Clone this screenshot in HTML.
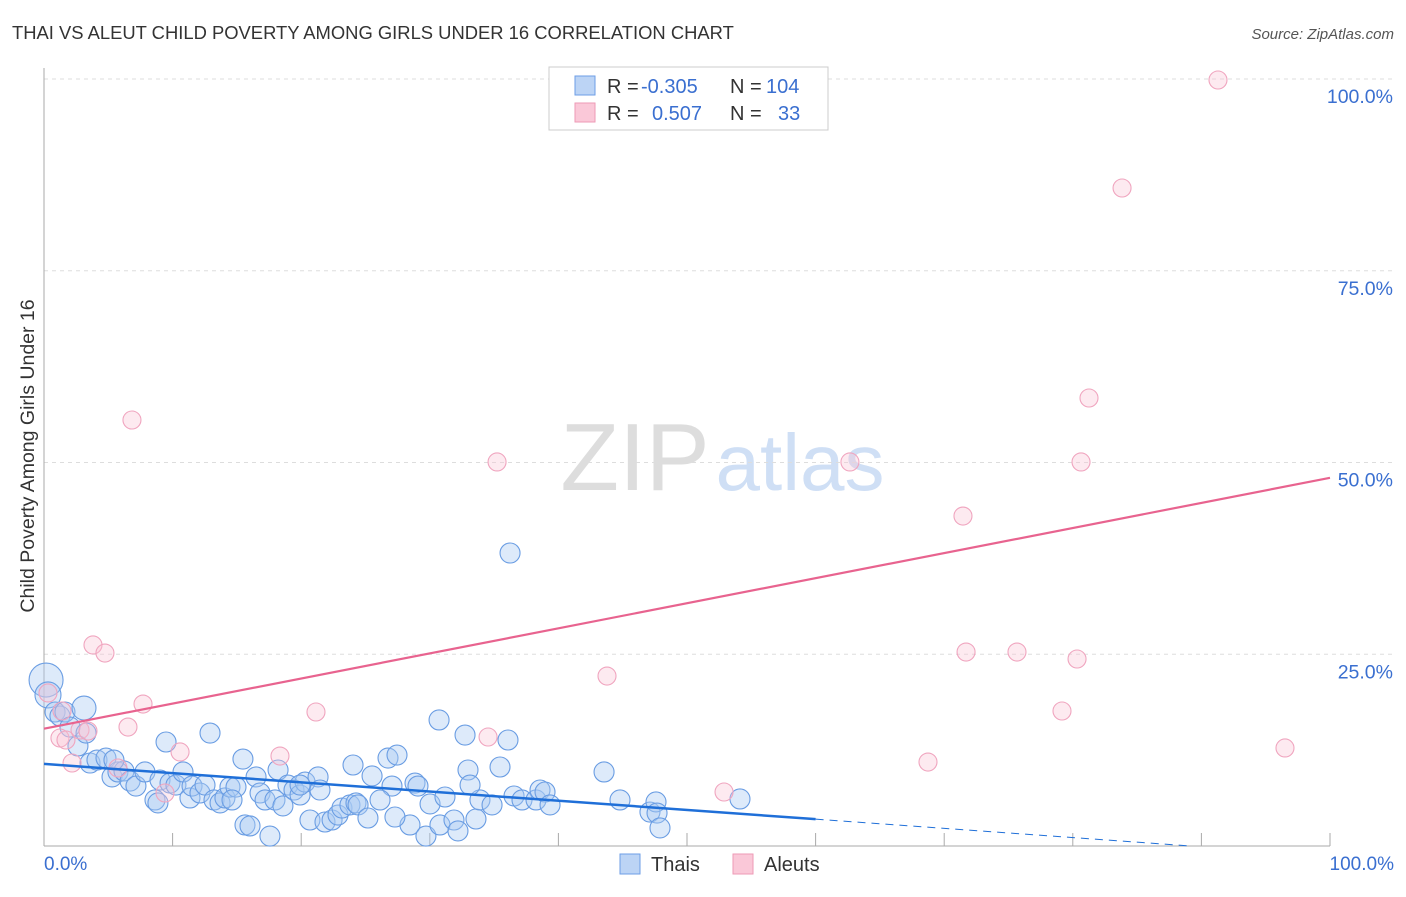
<!DOCTYPE html>
<html><head><meta charset="utf-8"><style>
body{margin:0;background:#fff;font-family:"Liberation Sans",sans-serif}
svg text{font-family:"Liberation Sans",sans-serif}
</style></head><body>
<svg id="c" width="1406" height="892" viewBox="0 0 1406 892">
<text x="12" y="39" font-size="18.4" fill="#333">THAI VS ALEUT CHILD POVERTY AMONG GIRLS UNDER 16 CORRELATION CHART</text>
<text x="1394" y="39" font-size="15" fill="#555" font-style="italic" text-anchor="end">Source: ZipAtlas.com</text>
<text x="635" y="490" font-size="96" fill="#ddd" font-family="Liberation Serif" text-anchor="middle">ZIP</text>
<text x="800" y="490" font-size="80" fill="#cfdff5" text-anchor="middle">atlas</text>
<g id="grid"></g>
<g id="axes"></g>
<g id="pts"></g>
<g id="trend"></g>
<text x="34" y="456" font-size="19.5" fill="#333" text-anchor="middle" transform="rotate(-90 34 456)">Child Poverty Among Girls Under 16</text>
<text x="44" y="870" font-size="19" fill="#3a6fd0">0.0%</text>
<text x="1394" y="870" font-size="19" fill="#3a6fd0" text-anchor="end">100.0%</text>
<g>
<rect x="549" y="67" width="279" height="63" fill="#fff" stroke="#ccc"/>
<rect x="575" y="76" width="20" height="19" fill="#bcd4f5" stroke="#6d9ee6"/>
<rect x="575" y="103" width="20" height="19" fill="#fac8d8" stroke="#ee9ab6"/>
<text x="607" y="93" font-size="20" fill="#333">R =</text>
<text x="641" y="93" font-size="20" fill="#3a6fd0">-0.305</text>
<text x="730" y="93" font-size="20" fill="#333">N =</text>
<text x="766" y="93" font-size="20" fill="#3a6fd0">104</text>
<text x="607" y="120" font-size="20" fill="#333">R =</text>
<text x="652" y="120" font-size="20" fill="#3a6fd0">0.507</text>
<text x="730" y="120" font-size="20" fill="#333">N =</text>
<text x="778" y="120" font-size="20" fill="#3a6fd0">33</text>
</g>
<g>
<rect x="620" y="854" width="20" height="20" fill="#bcd4f5" stroke="#6d9ee6"/>
<text x="651" y="871" font-size="20" fill="#333">Thais</text>
<rect x="733" y="854" width="20" height="20" fill="#fac8d8" stroke="#ee9ab6"/>
<text x="764" y="871" font-size="20" fill="#333">Aleuts</text>
</g>
</svg>
<script>
const yTicks=[25,50,75,100];
const yTickLabels=["25.0%","50.0%","75.0%","100.0%"];
const thaiPx=[[46,680,17],[48,695,13],[55,712],[60,716],[65,712],[84,708,12],[70,727],[78,746],[86,733],[90,763],[97,760],[106,758],[112,777],[118,772],[124,771],[130,781],[136,786],[145,772],[155,800],[158,803],[166,742],[160,780],[170,783],[176,785],[183,772],[190,798],[192,786],[200,793],[205,785],[210,733],[214,800],[220,803],[225,798],[230,787],[236,787],[243,759],[245,825],[250,826],[256,777],[260,793],[265,800],[270,836],[275,800],[278,770],[283,806],[288,785],[294,790],[300,795],[305,782],[310,820],[318,777],[320,790],[325,822],[332,820],[338,815],[342,808],[350,805],[356,803],[358,805],[353,765],[368,818],[372,776],[388,758],[392,786],[397,755],[410,825],[395,817],[415,783],[418,786],[430,804],[426,836],[440,825],[445,797],[454,820],[458,831],[468,770],[476,819],[480,800],[492,805],[500,767],[508,740],[514,796],[522,800],[536,800],[540,790],[545,792],[550,805],[439,720],[465,735],[510,553],[604,772],[620,800],[650,812],[656,802],[657,813],[660,828],[740,799],[114,760],[232,800],[300,785],[380,800],[470,785]];
const aleutPx=[[48,693],[62,711],[60,738],[66,740],[72,763],[80,730],[88,731],[93,645],[105,653],[128,727],[132,420],[143,704],[180,752],[280,756],[316,712],[165,793],[497,462],[488,737],[607,676],[724,792],[850,462],[928,762],[963,516],[966,652],[1017,652],[1062,711],[1077,659],[1081,462],[1089,398],[1122,188],[1218,80],[1285,748],[118,768]];
const thaiX=thaiPx.map(p=>+((p[0]-44)/12.86).toFixed(2));
const thaiY=thaiPx.map(p=>+((846-p[1])/7.67).toFixed(2));
const aleutX=aleutPx.map(p=>+((p[0]-44)/12.86).toFixed(2));
const aleutY=aleutPx.map(p=>+((846-p[1])/7.67).toFixed(2));
const thaiTrend=[10.7,-0.12];
const aleutTrend=[15.3,0.327];

const X=v=>44+v*12.86, Y=v=>846-v*7.67;
const NS='http://www.w3.org/2000/svg';
function mk(t,a,p){const e=document.createElementNS(NS,t);for(const k in a)e.setAttribute(k,a[k]);p.appendChild(e);return e;}
const grid=document.getElementById('grid'),axes=document.getElementById('axes'),pts=document.getElementById('pts'),tr=document.getElementById('trend');
yTicks.forEach((t,i)=>{
 const l=mk('line',{x1:44,x2:1394,y1:Y(t),y2:Y(t),stroke:'#ddd','stroke-dasharray':'4 4'},grid);
 
 
 const tx=mk('text',{x:1393,y:Y(t)+24,'font-size':19.5,fill:'#3a6fd0','text-anchor':'end'},axes);
 tx.textContent=yTickLabels[i];
 
 
});
mk('line',{x1:44,x2:44,y1:68,y2:846,stroke:'#aaa'},axes);
mk('line',{x1:44,x2:1330,y1:846,y2:846,stroke:'#aaa'},axes);
for(let i=1;i<=10;i++){const t=mk('line',{x1:X(i*10),x2:X(i*10),y1:833,y2:846,stroke:'#aaa'},axes);
 
 }
thaiX.forEach((x,i)=>{const r=thaiPx[i][2]||10;
 const c=mk('circle',{cx:X(x),cy:Y(thaiY[i]),r:r,fill:'rgba(170,202,242,0.4)',stroke:'#6a9de3','stroke-width':1.1},pts);
 
 });
aleutX.forEach((x,i)=>{
 const c=mk('circle',{cx:X(x),cy:Y(aleutY[i]),r:9,fill:'rgba(250,195,213,0.35)',stroke:'#f0a5bf','stroke-width':1.1},pts);
 
 });
const ty=x=>thaiTrend[0]+thaiTrend[1]*x;
let l1=mk('line',{x1:X(0),y1:Y(ty(0)),x2:X(60),y2:Y(ty(60)),stroke:'#1f6fd8','stroke-width':2.5},tr);


const xe=-thaiTrend[0]/thaiTrend[1];
let l2=mk('line',{x1:X(60),y1:Y(ty(60)),x2:X(Math.min(100,xe)),y2:Y(ty(Math.min(100,xe))),stroke:'#1f6fd8','stroke-width':1,'stroke-dasharray':'8 6'},tr);


const ay=x=>aleutTrend[0]+aleutTrend[1]*x;
let l3=mk('line',{x1:X(0),y1:Y(ay(0)),x2:X(100),y2:Y(ay(100)),stroke:'#e8638f','stroke-width':2.2},tr);


</script>
</body></html>
